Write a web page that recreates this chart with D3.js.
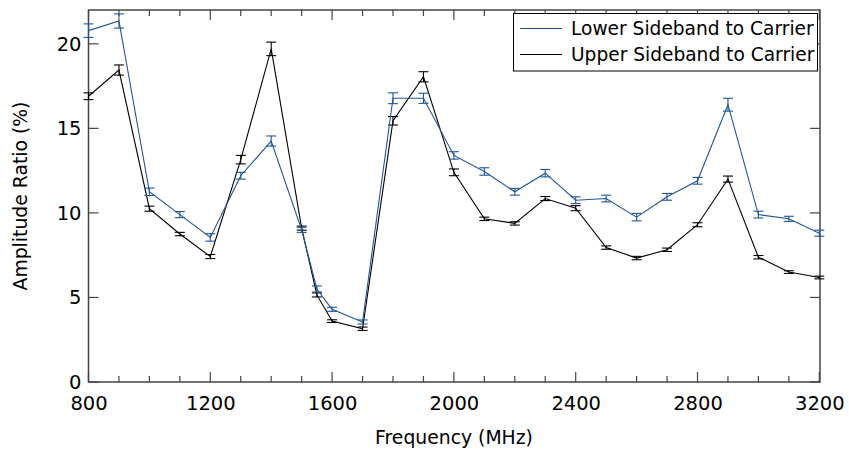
<!DOCTYPE html>
<html><head><meta charset="utf-8">
<script src="https://cdn.jsdelivr.net/npm/d3@7"></script>
<style>html,body{margin:0;padding:0;background:#fff;} svg{display:block;font-family:"DejaVu Sans",sans-serif;}</style>
</head><body>
<svg id="chart" width="849" height="449"></svg>
<script>
const freqs = [800,900,1000,1100,1200,1300,1400,1500,1550,1600,1700,1800,1900,2000,2100,2200,2300,2400,2500,2600,2700,2800,2900,3000,3100,3200];
const lowerVals = [20.78,21.35,11.25,9.9,8.55,12.2,14.25,9.0,5.5,4.3,3.55,16.78,16.78,13.4,12.45,11.25,12.35,10.75,10.85,9.75,10.95,11.9,16.4,9.9,9.65,8.8];
const lowerErr  = [0.4,0.42,0.22,0.18,0.22,0.2,0.3,0.15,0.18,0.12,0.12,0.32,0.3,0.22,0.22,0.2,0.22,0.2,0.2,0.22,0.2,0.2,0.38,0.2,0.15,0.18];
const upperVals = [16.9,18.45,10.25,8.75,7.42,13.15,19.7,9.1,5.15,3.6,3.15,15.45,18.05,12.4,9.65,9.38,10.85,10.28,7.95,7.33,7.82,9.3,12.0,7.38,6.5,6.18];
const upperErr  = [0.2,0.3,0.15,0.1,0.12,0.25,0.4,0.12,0.12,0.08,0.1,0.25,0.3,0.2,0.1,0.1,0.12,0.15,0.1,0.1,0.1,0.12,0.18,0.1,0.08,0.08];
const seriesNames = ["Lower Sideband to Carrier","Upper Sideband to Carrier"];
const seriesColors = ["#1f5597","#000000"];
const xMajorTicks = [800,1200,1600,2000,2400,2800,3200];
const xMinorTicks = d3.range(800,3201,100);
const yTicks = [0,5,10,15,20];

const svg = d3.select("#chart");
const L=88.5, R=820, T=10, B=382;
const x = d3.scaleLinear().domain([800,3200]).range([L,819.3]);
const y = d3.scaleLinear().domain([0,22]).range([B,T]);

const axisColor = "#444";
svg.append("rect").attr("x",L).attr("y",T).attr("width",R-L).attr("height",B-T)
  .attr("fill","none").attr("stroke",axisColor).attr("stroke-width",1.5);

const gB = svg.append("g").attr("transform",`translate(0,${B})`)
  .call(d3.axisBottom(x).tickValues(xMajorTicks).tickSize(0).tickPadding(14).tickFormat(d3.format("d")));
const tickG = svg.append("g").attr("stroke",axisColor).attr("stroke-width",1.2);
xMinorTicks.forEach(v=>{
  const maj = xMajorTicks.includes(v);
  const len = maj?10:6;
  tickG.append("line").attr("x1",x(v)).attr("x2",x(v)).attr("y1",B).attr("y2",B-len);
  tickG.append("line").attr("x1",x(v)).attr("x2",x(v)).attr("y1",T).attr("y2",T+len);
});
yTicks.forEach(v=>{
  tickG.append("line").attr("x1",L).attr("x2",L+10).attr("y1",y(v)).attr("y2",y(v));
  tickG.append("line").attr("x1",R).attr("x2",R-10).attr("y1",y(v)).attr("y2",y(v));
});
const gL = svg.append("g").attr("transform",`translate(${L},0)`)
  .call(d3.axisLeft(y).tickValues(yTicks).tickSize(0).tickPadding(7));
[gB,gL].forEach(g=>{
  g.select(".domain").remove();
  g.selectAll("text").attr("font-size",19.5).attr("font-family","DejaVu Sans").attr("fill","#000");
});
gB.selectAll("text").attr("dy","0.71em");

svg.append("text").attr("x",454).attr("y",444).attr("text-anchor","middle")
  .attr("font-size",18.8).text("Frequency (MHz)");
svg.append("text").attr("transform",`translate(27,196) rotate(-90)`).attr("text-anchor","middle")
  .attr("font-size",18.8).text("Amplitude Ratio (%)");

const series = [
  {vals:upperVals, err:upperErr, color:seriesColors[1]},
  {vals:lowerVals, err:lowerErr, color:seriesColors[0]}
];
const line = d3.line().x((d,i)=>x(freqs[i])).y(d=>y(d));
const plot = svg.append("g");
series.forEach(s=>{
  plot.append("path").datum(s.vals).attr("d",line).attr("fill","none")
    .attr("stroke",s.color).attr("stroke-width",1.1);
  const eg = plot.append("g").attr("stroke",s.color).attr("stroke-width",1.1);
  s.vals.forEach((v,i)=>{
    const cx = x(freqs[i]), y1=y(v+s.err[i]), y2=y(v-s.err[i]);
    eg.append("line").attr("x1",cx).attr("x2",cx).attr("y1",y1).attr("y2",y2);
    eg.append("line").attr("x1",cx-5).attr("x2",cx+5).attr("y1",y1).attr("y2",y1);
    eg.append("line").attr("x1",cx-5).attr("x2",cx+5).attr("y1",y2).attr("y2",y2);
  });
});

const lg = svg.append("g");
lg.append("rect").attr("x",513.5).attr("y",13.5).attr("width",304).attr("height",57.5)
  .attr("fill","#fff").attr("stroke","#000").attr("stroke-width",1);
seriesNames.forEach((n,i)=>{
  const yy = 28.5 + i*26;
  lg.append("line").attr("x1",520).attr("x2",562).attr("y1",yy).attr("y2",yy)
    .attr("stroke",seriesColors[i]).attr("stroke-width",1.1);
  lg.append("text").attr("x",571).attr("y",yy).attr("dy","0.35em").attr("font-size",18.6).text(n);
});
</script>
</body></html>
